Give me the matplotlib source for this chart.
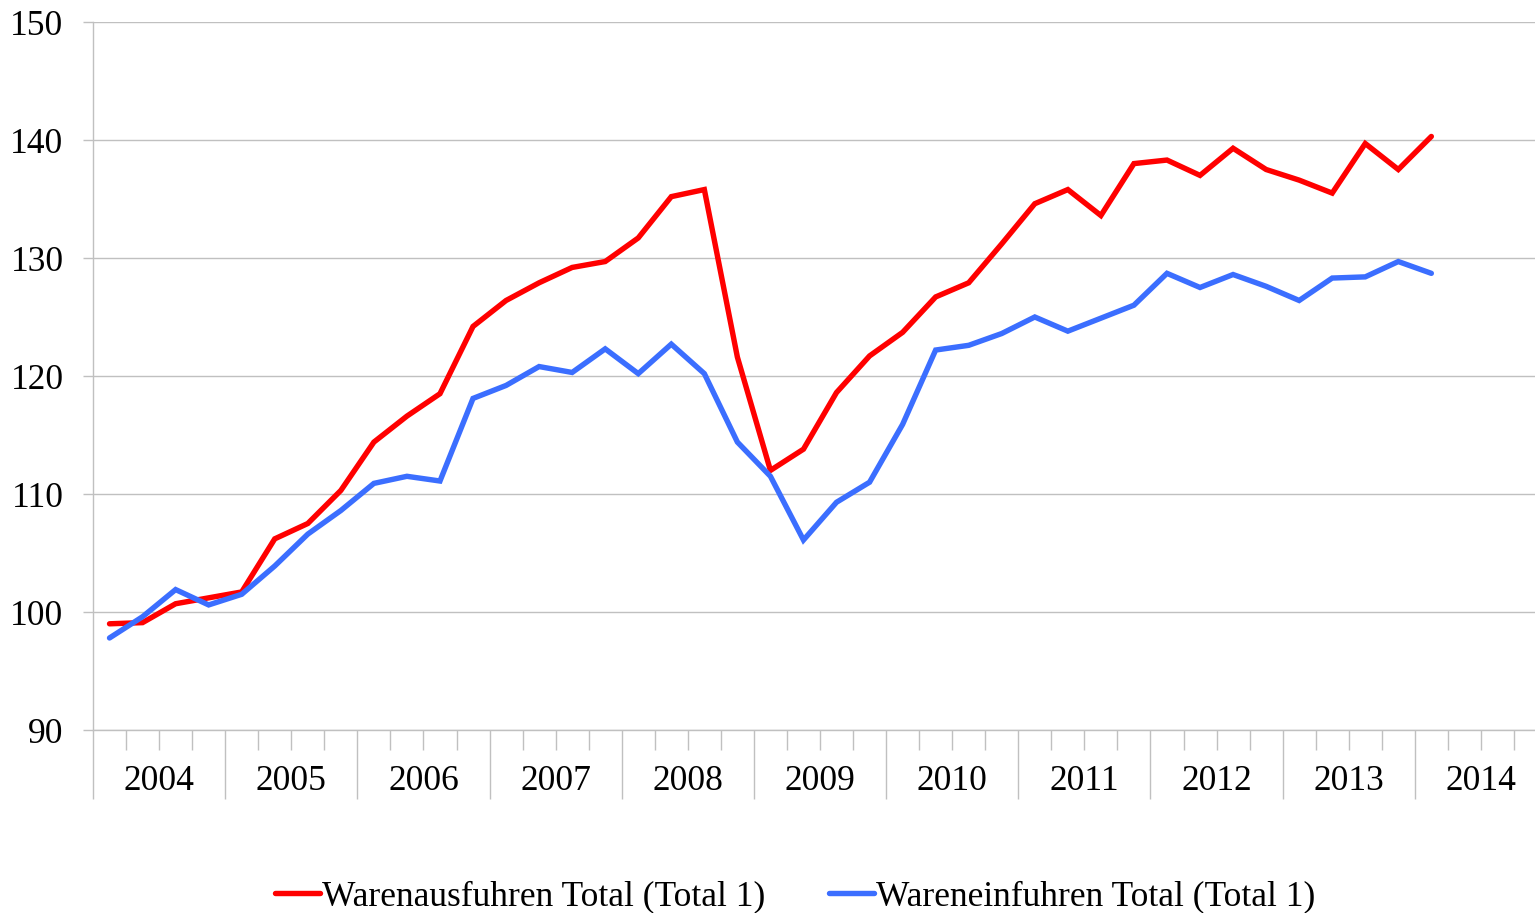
import matplotlib.pyplot as plt
import numpy as np

plt.rcParams['font.family'] = ['Liberation Serif', 'DejaVu Serif']

years = ['2004', '2005', '2006', '2007', '2008', '2009', '2010', '2011', '2012', '2013', '2014']

# quarterly index values, 2004 Q1 .. 2014 Q1
ausfuhren = [99.0, 99.1, 100.7, 101.2, 101.7, 106.2, 107.5, 110.3, 114.4, 116.6,
             118.5, 124.2, 126.4, 127.9, 129.2, 129.7, 131.7, 135.2, 135.8, 121.6,
             112.0, 113.8, 118.6, 121.7, 123.7, 126.7, 127.9, 131.2, 134.6, 135.8,
             133.6, 138.0, 138.3, 137.0, 139.3, 137.5, 136.6, 135.5, 139.7, 137.5,
             140.3]
einfuhren = [97.8, 99.6, 101.9, 100.6, 101.5, 103.9, 106.6, 108.6, 110.9, 111.5,
             111.1, 118.1, 119.2, 120.8, 120.3, 122.3, 120.2, 122.7, 120.2, 114.4,
             111.5, 106.1, 109.3, 111.0, 115.9, 122.2, 122.6, 123.6, 125.0, 123.8,
             124.9, 126.0, 128.7, 127.5, 128.6, 127.6, 126.4, 128.3, 128.4, 129.7,
             128.7]

fs = 25.5

fig = plt.figure(figsize=(15.35, 9.13), dpi=100)
ax = fig.add_axes([93/1535, 1 - 730/913, (1547 - 93)/1535, (730 - 22)/913])

x = np.arange(len(ausfuhren)) + 0.5
ax.plot(x, ausfuhren, color='#ff0000', lw=3.9, label='Warenausfuhren Total (Total 1)',
        solid_joinstyle='miter', solid_capstyle='round')
ax.plot(x, einfuhren, color='#3b6eff', lw=3.9, label='Wareneinfuhren Total (Total 1)',
        solid_joinstyle='miter', solid_capstyle='round')

ax.set_xlim(0, 4 * len(years))
ax.set_ylim(90, 150)
ax.set_yticks(range(90, 151, 10))
ax.yaxis.grid(True, color='#c0c0c0', lw=1)
ax.set_axisbelow(True)

ax.set_xticks(range(0, 4 * len(years) + 1, 4))
ax.set_xticks(range(0, 4 * len(years) + 1), minor=True)
ax.set_xticklabels([])
ax.tick_params(axis='x', which='major', length=50, width=1, color='#c0c0c0', direction='out')
ax.tick_params(axis='x', which='minor', length=14.4, width=1, color='#c0c0c0', direction='out')
ax.tick_params(axis='y', length=7.2, width=1, color='#c0c0c0', labelsize=fs, pad=14)

for i, yr in enumerate(years):
    ax.text(4 * i + 2, -0.073, yr, transform=ax.get_xaxis_transform(),
            ha='center', va='center', fontsize=fs)

for s in ['top', 'right']:
    ax.spines[s].set_visible(False)
for s in ['left', 'bottom']:
    ax.spines[s].set_color('#c0c0c0')
    ax.spines[s].set_linewidth(1)

fig.legend(loc='center', bbox_to_anchor=(795/1535, 1 - 897/913), ncol=2, frameon=False,
           fontsize=fs, handlelength=1.27, handletextpad=0.05, columnspacing=1.8)

fig.savefig('out.png', dpi=100)
